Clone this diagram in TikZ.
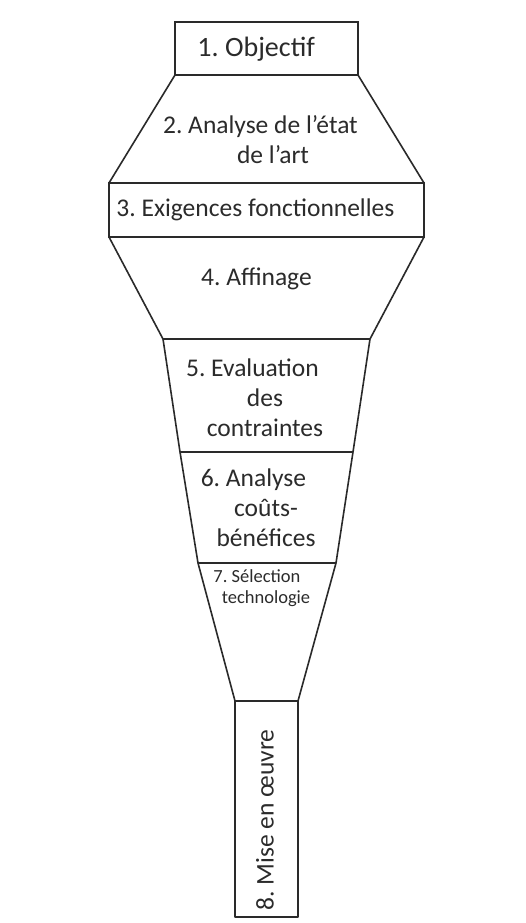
\documentclass[tikz,border=0pt]{standalone}
\usepackage{fontspec}
\setmainfont{Carlito}
\definecolor{ink}{HTML}{2A2A2A}
\definecolor{txt}{HTML}{2B2B2B}
\tikzset{
  frame/.style={draw=ink, line width=2.4pt, line join=miter},
  side/.style={draw=ink, line width=1.6pt, line join=round},
  big/.style={text=txt, align=center, inner sep=0pt, font=\fontsize{25.5}{30}\selectfont},
  small/.style={text=txt, align=center, inner sep=0pt, font=\fontsize{18.5}{21}\selectfont},
}
\begin{document}
\begin{tikzpicture}[x=1pt,y=-1pt]
\useasboundingbox[fill=white] (0,0) rectangle (525,923);
% corner coordinates
\coordinate (a1) at (175,22);  \coordinate (a2) at (358,22);
\coordinate (b1) at (175,75);  \coordinate (b2) at (358,75);
\coordinate (c1) at (109,183); \coordinate (c2) at (424,183);
\coordinate (d1) at (109,237); \coordinate (d2) at (424,237);
\coordinate (e1) at (163,339); \coordinate (e2) at (370,339);
\coordinate (f1) at (180,452); \coordinate (f2) at (353,452);
\coordinate (g1) at (198,563); \coordinate (g2) at (336,563);
\coordinate (h1) at (235,701); \coordinate (h2) at (298,701);
\coordinate (k1) at (235,917); \coordinate (k2) at (298,917);
% funnel sides
\draw[side] (b1) -- (c1) (b2) -- (c2);
\draw[side] (d1) -- (e1) (d2) -- (e2);
\draw[side] (e1) -- (f1) -- (g1) -- (h1);
\draw[side] (e2) -- (f2) -- (g2) -- (h2);
\draw[side] (e1) -- (e2);
\draw[side] (f1) -- (f2);
\draw[side] (g1) -- (g2);
% boxes
\draw[frame] (a1) rectangle (b2);
\draw[frame] (c1) rectangle (d2);
\draw[side, line width=2pt] (h1) rectangle (k2);
% labels
\node[big, font=\fontsize{28}{30}\selectfont] (t1) at (270,49) {\llap{1.\ }Objectif};
\node[big] (t2) at (273,140) {\llap{2.\ }Analyse de l’état\\de l’art};
\node[big] (t3) at (268,210) {\llap{3.\ }Exigences fonctionnelles};
\node[big] (t4) at (269,279) {\llap{4.\ }Affinage};
\node[big] (t5) at (265,398) {\llap{5.\ }Evaluation\\des\\contraintes};
\node[big] (t6) at (266,508) {\llap{6.\ }Analyse\\coûts-\\bénéfices};
\node[small] (t7) at (266,588) {\llap{7.\ }Sélection\\technologie};
\node[big, rotate=90] (t8) at (265,820) {8.\ Mise en œuvre};
\end{tikzpicture}
\end{document}
